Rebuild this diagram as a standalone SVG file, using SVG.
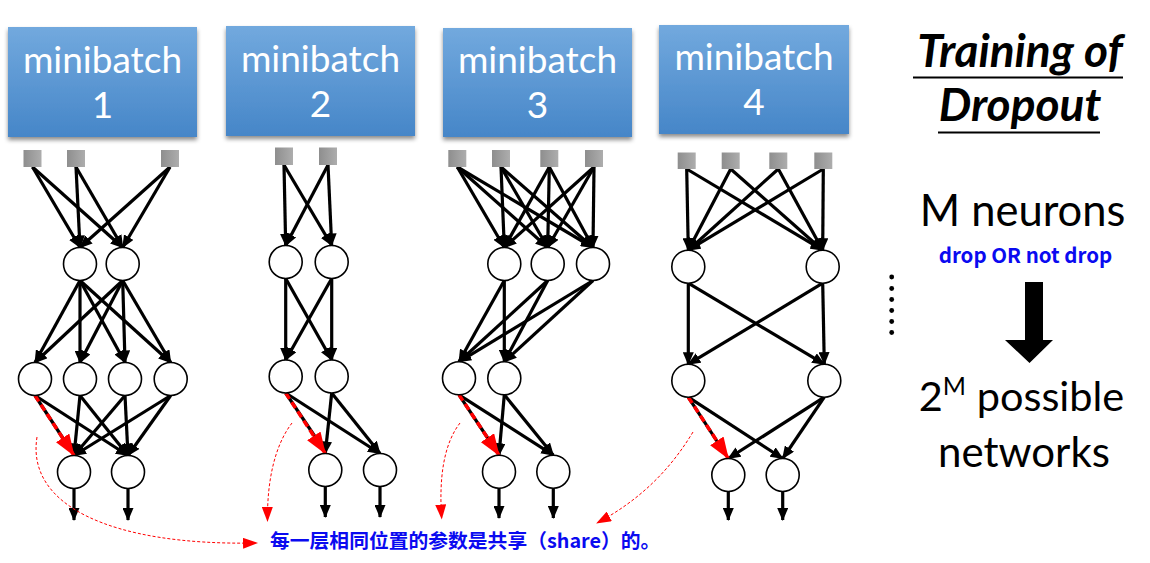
<svg xmlns="http://www.w3.org/2000/svg" width="1150" height="563" viewBox="0 0 1150 563">
<defs>
<linearGradient id="bx" x1="0" y1="0" x2="0" y2="1">
<stop offset="0" stop-color="#72a9de"/>
<stop offset="1" stop-color="#4686c8"/>
</linearGradient>
<linearGradient id="sq" x1="0" y1="0" x2="1" y2="0">
<stop offset="0" stop-color="#8e8e8e"/>
<stop offset="1" stop-color="#adadad"/>
</linearGradient>
<filter id="sh" x="-10%" y="-10%" width="120%" height="130%">
<feDropShadow dx="0" dy="3" stdDeviation="2" flood-color="#000" flood-opacity="0.45"/>
</filter>
<marker id="ab" markerUnits="userSpaceOnUse" markerWidth="13" markerHeight="11" refX="12" refY="5.5" orient="auto">
<path d="M0,0 L13,5.5 L0,11 z" fill="#000"/>
</marker>
<marker id="ar" markerUnits="userSpaceOnUse" markerWidth="22" markerHeight="16" refX="21" refY="8" orient="auto">
<path d="M0,0 L22,8 L0,16 z" fill="#ff0000"/>
</marker>
<marker id="as" markerUnits="userSpaceOnUse" markerWidth="15" markerHeight="11" refX="14" refY="5.5" orient="auto">
<path d="M0,0 L15,5.5 L0,11 z" fill="#ff0000"/>
</marker>
</defs>
<style>
.box{fill:url(#bx);filter:url(#sh)}
.bt{font-family:Lato,"Liberation Sans",sans-serif;font-size:37px;fill:#fff;text-anchor:middle}
.sq{fill:url(#sq)}
.n{fill:#fff;stroke:#000;stroke-width:1.6}
.e{stroke:#000;stroke-width:3.2;fill:none;marker-end:url(#ab)}
.k{stroke:#000;stroke-width:3.2;fill:none}
.r{stroke:#ff0000;stroke-width:3.5;stroke-dasharray:7,4;fill:none;marker-end:url(#ar)}
.c{stroke:#ff0000;stroke-width:1;stroke-dasharray:3,2;fill:none;marker-end:url(#as)}
.big{font-family:Lato,"Liberation Sans",sans-serif;fill:#000}
.blue{font-family:"Noto Sans CJK SC","Noto Sans",sans-serif;font-weight:bold;fill:#0a0af0}
</style>

<g id="minibatch1"><rect class="box" x="8" y="27" width="189" height="110"/><text class="bt" x="102.5" y="73">minibatch</text><text class="bt" x="102.5" y="118">1</text></g>
<g id="minibatch2"><rect class="box" x="226" y="26" width="189" height="110"/><text class="bt" x="320.5" y="72">minibatch</text><text class="bt" x="320.5" y="117">2</text></g>
<g id="minibatch3"><rect class="box" x="443" y="28" width="189" height="109"/><text class="bt" x="537.5" y="73">minibatch</text><text class="bt" x="537.5" y="118">3</text></g>
<g id="minibatch4"><rect class="box" x="659" y="25" width="190" height="109"/><text class="bt" x="754" y="70">minibatch</text><text class="bt" x="754" y="115">4</text></g>

<g id="connectors">
<!-- net 1 -->
<line class="e" x1="32.5" y1="167" x2="80" y2="247.5"/>
<line class="e" x1="32.5" y1="167" x2="122.7" y2="247.5"/>
<line class="e" x1="76" y1="167" x2="80" y2="247.5"/>
<line class="e" x1="76" y1="167" x2="122.7" y2="247.5"/>
<line class="e" x1="170" y1="167" x2="80" y2="247.5"/>
<line class="e" x1="170" y1="167" x2="122.7" y2="247.5"/>
<line class="e" x1="80" y1="280.5" x2="35" y2="362.5"/>
<line class="e" x1="80" y1="280.5" x2="80" y2="362.5"/>
<line class="e" x1="80" y1="280.5" x2="125" y2="362.5"/>
<line class="e" x1="80" y1="280.5" x2="170.7" y2="362.5"/>
<line class="e" x1="122.7" y1="280.5" x2="35" y2="362.5"/>
<line class="e" x1="122.7" y1="280.5" x2="80" y2="362.5"/>
<line class="e" x1="122.7" y1="280.5" x2="125" y2="362.5"/>
<line class="e" x1="122.7" y1="280.5" x2="170.7" y2="362.5"/>
<line class="e" x1="35" y1="395.5" x2="128" y2="455.5"/>
<line class="e" x1="80" y1="395.5" x2="74" y2="455.5"/>
<line class="e" x1="80" y1="395.5" x2="128" y2="455.5"/>
<line class="e" x1="125" y1="395.5" x2="74" y2="455.5"/>
<line class="e" x1="125" y1="395.5" x2="128" y2="455.5"/>
<line class="e" x1="170.7" y1="395.5" x2="74" y2="455.5"/>
<line class="e" x1="170.7" y1="395.5" x2="128" y2="455.5"/>
<line class="k" x1="35" y1="395.5" x2="70" y2="449"/>
<line class="r" x1="35" y1="395.5" x2="74" y2="455.5"/>
<line class="e" x1="74" y1="488.5" x2="74" y2="520"/>
<line class="e" x1="128" y1="488.5" x2="128" y2="520"/>
<!-- net 2 -->
<line class="e" x1="284" y1="165" x2="285.7" y2="245.5"/>
<line class="e" x1="284" y1="165" x2="331.7" y2="245.5"/>
<line class="e" x1="328" y1="165" x2="285.7" y2="245.5"/>
<line class="e" x1="328" y1="165" x2="331.7" y2="245.5"/>
<line class="e" x1="285.7" y1="278.5" x2="285.7" y2="360"/>
<line class="e" x1="285.7" y1="278.5" x2="331.7" y2="360"/>
<line class="e" x1="331.7" y1="278.5" x2="285.7" y2="360"/>
<line class="e" x1="331.7" y1="278.5" x2="331.7" y2="360"/>
<line class="e" x1="285.7" y1="393" x2="380" y2="453.5"/>
<line class="e" x1="331.7" y1="393" x2="325.3" y2="453.5"/>
<line class="e" x1="331.7" y1="393" x2="380" y2="453.5"/>
<line class="k" x1="285.7" y1="393" x2="322" y2="447"/>
<line class="r" x1="285.7" y1="393" x2="325.3" y2="453.5"/>
<line class="e" x1="325.3" y1="486.5" x2="325.3" y2="517"/>
<line class="e" x1="380" y1="486.5" x2="380" y2="517"/>
<!-- net 3 -->
<line class="e" x1="457.3" y1="167" x2="504.3" y2="247.5"/>
<line class="e" x1="457.3" y1="167" x2="547.7" y2="247.5"/>
<line class="e" x1="457.3" y1="167" x2="593" y2="247.5"/>
<line class="e" x1="501" y1="167" x2="504.3" y2="247.5"/>
<line class="e" x1="501" y1="167" x2="547.7" y2="247.5"/>
<line class="e" x1="501" y1="167" x2="593" y2="247.5"/>
<line class="e" x1="549.3" y1="167" x2="504.3" y2="247.5"/>
<line class="e" x1="549.3" y1="167" x2="547.7" y2="247.5"/>
<line class="e" x1="549.3" y1="167" x2="593" y2="247.5"/>
<line class="e" x1="594" y1="167" x2="504.3" y2="247.5"/>
<line class="e" x1="594" y1="167" x2="547.7" y2="247.5"/>
<line class="e" x1="594" y1="167" x2="593" y2="247.5"/>
<line class="e" x1="504.3" y1="280.5" x2="459" y2="361.8"/>
<line class="e" x1="504.3" y1="280.5" x2="504.3" y2="361.8"/>
<line class="e" x1="547.7" y1="280.5" x2="459" y2="361.8"/>
<line class="e" x1="547.7" y1="280.5" x2="504.3" y2="361.8"/>
<line class="e" x1="593" y1="280.5" x2="459" y2="361.8"/>
<line class="e" x1="593" y1="280.5" x2="504.3" y2="361.8"/>
<line class="e" x1="459" y1="394.8" x2="553.3" y2="455.2"/>
<line class="e" x1="504.3" y1="394.8" x2="499" y2="455.2"/>
<line class="e" x1="504.3" y1="394.8" x2="553.3" y2="455.2"/>
<line class="k" x1="459" y1="394.8" x2="495" y2="449"/>
<line class="r" x1="459" y1="394.8" x2="499" y2="455.2"/>
<line class="e" x1="499" y1="488.2" x2="499" y2="518"/>
<line class="e" x1="553.3" y1="488.2" x2="553.3" y2="518"/>
<!-- net 4 -->
<line class="e" x1="686.7" y1="169" x2="688.3" y2="250.2"/>
<line class="e" x1="686.7" y1="169" x2="822.7" y2="250.2"/>
<line class="e" x1="730.7" y1="169" x2="688.3" y2="250.2"/>
<line class="e" x1="730.7" y1="169" x2="822.7" y2="250.2"/>
<line class="e" x1="778.3" y1="169" x2="688.3" y2="250.2"/>
<line class="e" x1="778.3" y1="169" x2="822.7" y2="250.2"/>
<line class="e" x1="823.3" y1="169" x2="688.3" y2="250.2"/>
<line class="e" x1="823.3" y1="169" x2="822.7" y2="250.2"/>
<line class="e" x1="688.3" y1="283.2" x2="688.3" y2="364.2"/>
<line class="e" x1="688.3" y1="283.2" x2="824.3" y2="364.2"/>
<line class="e" x1="822.7" y1="283.2" x2="688.3" y2="364.2"/>
<line class="e" x1="822.7" y1="283.2" x2="824.3" y2="364.2"/>
<line class="e" x1="688.3" y1="397.2" x2="782.7" y2="458.5"/>
<line class="e" x1="824.3" y1="397.2" x2="728.3" y2="458.5"/>
<line class="e" x1="824.3" y1="397.2" x2="782.7" y2="458.5"/>
<line class="k" x1="688.3" y1="397.2" x2="724" y2="452"/>
<line class="r" x1="688.3" y1="397.2" x2="728.3" y2="458.5"/>
<line class="e" x1="728.3" y1="491.5" x2="728.3" y2="520"/>
<line class="e" x1="782.7" y1="491.5" x2="782.7" y2="520"/>
<!-- red curved pointers -->
<path class="c" d="M37,437 C26,505 110,546 257,543"/>
<path class="c" d="M292,423 C275,445 267,480 267.5,521"/>
<path class="c" d="M460,423 C443,445 439,480 441.7,518.5"/>
<path class="c" d="M693,432 C670,470 640,500 597,523"/>
</g>

<g id="net1">
<rect class="sq" x="23.5" y="150" width="18" height="17"/>
<rect class="sq" x="67" y="150" width="18" height="17"/>
<rect class="sq" x="161" y="150" width="18" height="17"/>
<circle class="n" cx="80" cy="264" r="16.5"/><circle class="n" cx="122.7" cy="264" r="16.5"/>
<circle class="n" cx="35" cy="379" r="16.5"/><circle class="n" cx="80" cy="379" r="16.5"/><circle class="n" cx="125" cy="379" r="16.5"/><circle class="n" cx="170.7" cy="379" r="16.5"/>
<circle class="n" cx="74" cy="472" r="16.5"/><circle class="n" cx="128" cy="472" r="16.5"/>
</g>
<g id="net2">
<rect class="sq" x="275" y="147.5" width="18" height="17.5"/>
<rect class="sq" x="319" y="147.5" width="18" height="17.5"/>
<circle class="n" cx="285.7" cy="262" r="16.5"/><circle class="n" cx="331.7" cy="262" r="16.5"/>
<circle class="n" cx="285.7" cy="376.5" r="16.5"/><circle class="n" cx="331.7" cy="376.5" r="16.5"/>
<circle class="n" cx="325.3" cy="470" r="16.5"/><circle class="n" cx="380" cy="470" r="16.5"/>
</g>
<g id="net3">
<rect class="sq" x="448.3" y="150" width="18" height="17"/>
<rect class="sq" x="492" y="150" width="18" height="17"/>
<rect class="sq" x="540.3" y="150" width="18" height="17"/>
<rect class="sq" x="585" y="150" width="18" height="17"/>
<circle class="n" cx="504.3" cy="264" r="16.5"/><circle class="n" cx="547.7" cy="264" r="16.5"/><circle class="n" cx="593" cy="264" r="16.5"/>
<circle class="n" cx="459" cy="378.3" r="16.5"/><circle class="n" cx="504.3" cy="378.3" r="16.5"/>
<circle class="n" cx="499" cy="471.7" r="16.5"/><circle class="n" cx="553.3" cy="471.7" r="16.5"/>
</g>
<g id="net4">
<rect class="sq" x="677.7" y="152.5" width="18" height="16.5"/>
<rect class="sq" x="721.7" y="152.5" width="18" height="16.5"/>
<rect class="sq" x="769.3" y="152.5" width="18" height="16.5"/>
<rect class="sq" x="814.3" y="152.5" width="18" height="16.5"/>
<circle class="n" cx="688.3" cy="266.7" r="16.5"/><circle class="n" cx="822.7" cy="266.7" r="16.5"/>
<circle class="n" cx="688.3" cy="380.7" r="16.5"/><circle class="n" cx="824.3" cy="380.7" r="16.5"/>
<circle class="n" cx="728.3" cy="475" r="16.5"/><circle class="n" cx="782.7" cy="475" r="16.5"/>
</g>

<g id="title">
<text class="big" x="1020" y="67" font-size="46" font-weight="bold" font-style="italic" text-anchor="middle">Training of</text>
<line x1="913" y1="77.5" x2="1123" y2="77.5" stroke="#000" stroke-width="2"/>
<text class="big" x="1020" y="121" font-size="46" font-weight="bold" font-style="italic" text-anchor="middle">Dropout</text>
<line x1="938" y1="132.5" x2="1100" y2="132.5" stroke="#000" stroke-width="2"/>
</g>
<g id="neurons">
<text class="big" x="1022.5" y="226" font-size="43.5" text-anchor="middle">M neurons</text>
<text class="blue" x="1025.5" y="263" font-size="20.5" text-anchor="middle">drop OR not drop</text>
</g>
<g id="dots" fill="#000">
<circle cx="891.7" cy="277" r="2.4"/><circle cx="891.7" cy="288.5" r="2.4"/><circle cx="891.7" cy="299.5" r="2.4"/><circle cx="891.7" cy="310.5" r="2.4"/><circle cx="891.7" cy="321.5" r="2.4"/><circle cx="891.7" cy="332.5" r="2.4"/>
</g>
<g id="bigarrow">
<path d="M1025,282 L1043,282 L1043,340 L1053,340 L1029.5,363 L1005,340 L1025,340 z" fill="#000"/>
</g>
<g id="networks">
<text class="big" x="1021.5" y="411" font-size="41.5" text-anchor="middle">2<tspan font-size="25" dy="-16">M</tspan><tspan dy="16"> possible</tspan></text>
<text class="big" x="1024" y="467" font-size="42" text-anchor="middle">networks</text>
</g>
<g id="note">
<text class="blue" x="270" y="548" font-size="19.8">每一层相同位置的参数是共享（share）的。</text>
</g>
</svg>
